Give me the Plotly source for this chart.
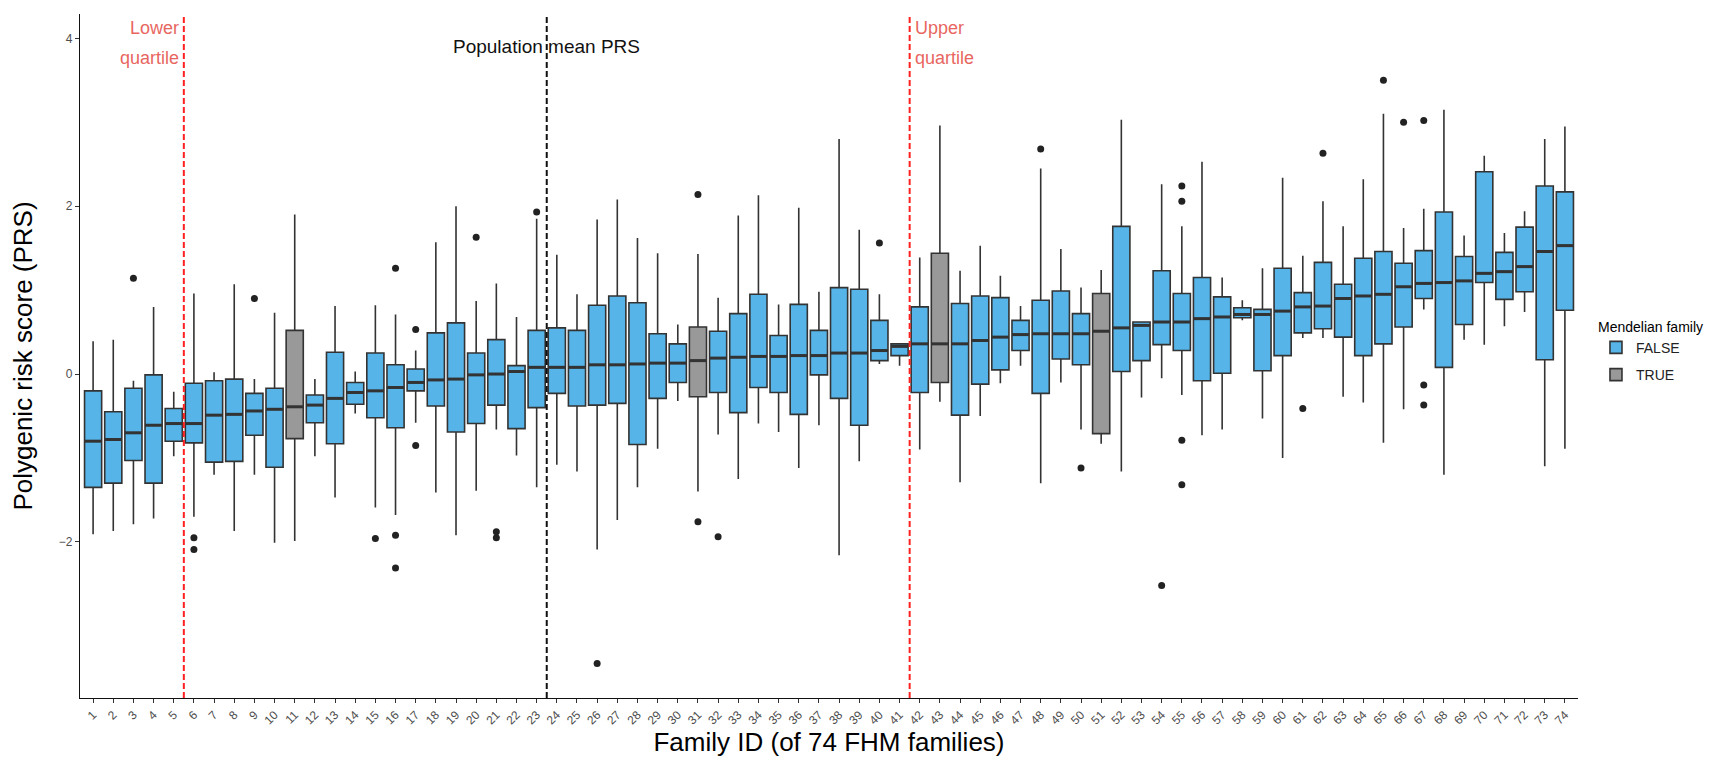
import plotly.graph_objects as go

families = list(range(1, 75))
upper_whisker = [0.39, 0.41, -0.08, 0.80, -0.21, 0.96, 0.02, 1.07, -0.06, 0.73,
                 1.90, -0.06, 0.81, 0.03, 0.82, 0.71, 0.28, 1.57, 2.00, 0.87,
                 1.08, 0.68, 1.85, 1.42, 0.95, 1.84, 2.08, 1.62, 1.44, 0.59,
                 1.43, 0.91, 1.89, 2.13, 0.83, 1.98, 0.98, 2.80, 1.72, 0.95,
                 0.36, 1.39, 2.96, 1.23, 1.53, 1.17, 0.81, 2.45, 1.49, 1.03,
                 1.24, 3.03, 0.62, 2.26, 1.76, 2.53, 1.15, 0.88, 1.26, 2.34,
                 1.41, 2.06, 1.76, 2.32, 3.10, 1.74, 1.97, 3.15, 1.65, 2.60,
                 1.68, 1.94, 2.80, 2.95]
q3 = [-0.20, -0.45, -0.17, -0.01, -0.41, -0.11, -0.08, -0.06, -0.23, -0.17,
      0.52, -0.25, 0.26, -0.10, 0.25, 0.11, 0.06, 0.49, 0.61, 0.25,
      0.41, 0.10, 0.52, 0.55, 0.52, 0.82, 0.93, 0.85, 0.48, 0.36,
      0.56, 0.51, 0.72, 0.95, 0.46, 0.83, 0.52, 1.03, 1.01, 0.64,
      0.36, 0.80, 1.44, 0.84, 0.93, 0.91, 0.64, 0.88, 0.99, 0.72,
      0.96, 1.76, 0.62, 1.23, 0.96, 1.15, 0.92, 0.79, 0.77, 1.26,
      0.97, 1.33, 1.07, 1.38, 1.46, 1.32, 1.47, 1.93, 1.40, 2.41,
      1.45, 1.75, 2.24, 2.17]
median = [-0.80, -0.78, -0.70, -0.61, -0.59, -0.59, -0.49, -0.48, -0.44, -0.42,
          -0.39, -0.37, -0.29, -0.22, -0.20, -0.16, -0.10, -0.07, -0.06, -0.01,
          0.00, 0.03, 0.08, 0.08, 0.08, 0.11, 0.11, 0.12, 0.13, 0.13,
          0.16, 0.19, 0.20, 0.21, 0.21, 0.22, 0.22, 0.25, 0.25, 0.28,
          0.33, 0.36, 0.36, 0.36, 0.40, 0.44, 0.47, 0.48, 0.48, 0.48,
          0.51, 0.55, 0.58, 0.62, 0.62, 0.66, 0.68, 0.71, 0.71, 0.75,
          0.80, 0.81, 0.90, 0.93, 0.95, 1.04, 1.08, 1.09, 1.11, 1.20,
          1.22, 1.28, 1.46, 1.53]
q1 = [-1.35, -1.30, -1.03, -1.30, -0.80, -0.82, -1.05, -1.04, -0.73, -1.11,
      -0.77, -0.58, -0.83, -0.36, -0.52, -0.64, -0.20, -0.38, -0.69, -0.59,
      -0.37, -0.65, -0.40, -0.23, -0.38, -0.37, -0.35, -0.84, -0.29, -0.10,
      -0.27, -0.22, -0.46, -0.16, -0.22, -0.48, -0.01, -0.29, -0.61, 0.16,
      0.22, -0.22, -0.10, -0.49, -0.12, 0.05, 0.28, -0.23, 0.18, 0.11,
      -0.71, 0.03, 0.16, 0.35, 0.28, -0.08, 0.01, 0.67, 0.04, 0.22,
      0.49, 0.54, 0.44, 0.22, 0.36, 0.56, 0.90, 0.08, 0.59, 1.09,
      0.89, 0.98, 0.17, 0.76]
lower_whisker = [-1.91, -1.87, -1.79, -1.72, -0.98, -1.70, -1.20, -1.87, -1.20, -2.01,
                 -1.99, -0.98, -1.47, -0.47, -1.59, -1.68, -0.58, -1.41, -1.92, -1.39,
                 -0.66, -0.97, -1.35, -1.08, -1.16, -2.09, -1.74, -1.35, -0.89, -0.32,
                 -1.40, -0.72, -1.25, -0.59, -0.69, -1.12, -0.61, -2.16, -1.04, 0.12,
                 0.10, -0.90, -0.33, -1.29, -0.50, -0.11, 0.10, -1.30, -0.10, -0.66,
                 -0.83, -1.16, -0.28, -0.05, -0.25, -0.73, -0.66, 0.64, -0.53, -1.00,
                 0.43, 0.43, -0.27, -0.34, -0.82, -0.42, 0.77, -1.20, 0.41, 0.35,
                 0.57, 0.74, -1.10, -0.89]
mendelian_families = [11, 31, 43, 51]

outlier_family = [3, 6, 6, 9, 15, 16, 16, 16, 17, 17, 20, 21, 21, 23, 26, 31, 31, 32,
                  40, 48, 50, 54, 55, 55, 55, 55, 61, 62, 65, 66, 67, 67, 67]
outlier_value = [1.14, -1.95, -2.09, 0.90, -1.96, 1.26, -1.92, -2.31, 0.53, -0.85,
                 1.63, -1.88, -1.95, 1.93, -3.45, 2.14, -1.76, -1.94,
                 1.56, 2.68, -1.12, -2.52, 2.24, 2.06, -0.79, -1.32, -0.41, 2.63,
                 3.50, 3.00, 3.02, -0.13, -0.37]

tick_labels = [str(f) for f in families]
lower_quartile_pos = 5.5
pop_mean_pos = 23.5
upper_quartile_pos = 41.5

BLUE = "#56B4E9"
GREY = "#999999"
OUTLINE = "#333333"
BOX_W = 0.85
FONT = "Liberation Sans, Arial, Helvetica, sans-serif"
RED_TXT = "#e8665f"

fig = go.Figure()

for flag, name, color in [(False, "FALSE", BLUE), (True, "TRUE", GREY)]:
    idx = [i for i, f in enumerate(families) if (f in mendelian_families) == flag]
    fig.add_trace(go.Box(
        x=[families[i] for i in idx],
        q1=[q1[i] for i in idx],
        median=[median[i] for i in idx],
        q3=[q3[i] for i in idx],
        lowerfence=[lower_whisker[i] for i in idx],
        upperfence=[upper_whisker[i] for i in idx],
        name=name,
        legendgroup=name,
        fillcolor=color,
        line=dict(color=OUTLINE, width=1.6),
        whiskerwidth=0,
        width=BOX_W,
        boxpoints=False,
        hoverinfo="skip",
        showlegend=True,
    ))

# thicker median bars (ggplot style)
mx, my = [], []
for f, m in zip(families, median):
    mx += [f - BOX_W / 2, f + BOX_W / 2, None]
    my += [m, m, None]
fig.add_trace(go.Scatter(x=mx, y=my, mode="lines",
                         line=dict(color=OUTLINE, width=3),
                         showlegend=False, hoverinfo="skip"))

fig.add_trace(go.Scatter(x=outlier_family, y=outlier_value, mode="markers",
                         marker=dict(color="#222222", size=7),
                         showlegend=False, hoverinfo="skip"))

for pos, col in [(lower_quartile_pos, "#ff2020"), (pop_mean_pos, "#111111"),
                 (upper_quartile_pos, "#ff2020")]:
    fig.add_shape(type="line", xref="x", yref="paper", x0=pos, x1=pos, y0=0, y1=1,
                  line=dict(color=col, width=2, dash="6px,3px"))

line1_y, line2_y, mid_y = 4.12, 3.76, 3.90
for text, y in [("Lower", line1_y), ("quartile", line2_y)]:
    fig.add_annotation(x=lower_quartile_pos, y=y, xref="x", yref="y", text=text,
                       showarrow=False, xanchor="right", xshift=-3,
                       font=dict(family=FONT, size=18, color=RED_TXT))
for text, y in [("Upper", line1_y), ("quartile", line2_y)]:
    fig.add_annotation(x=upper_quartile_pos, y=y, xref="x", yref="y", text=text,
                       showarrow=False, xanchor="left", xshift=3,
                       font=dict(family=FONT, size=18, color=RED_TXT))
fig.add_annotation(x=pop_mean_pos, y=mid_y, xref="x", yref="y",
                   text="Population mean PRS", showarrow=False, xanchor="center",
                   font=dict(family=FONT, size=19, color="#111111"))

fig.update_layout(
    width=1720, height=757,
    margin=dict(l=72, r=150, t=6, b=67),
    paper_bgcolor="white", plot_bgcolor="white",
    boxmode="overlay",
    font=dict(family=FONT, color="#000000"),
    legend=dict(title=dict(text="Mendelian family", font=dict(size=14, color="#000")),
                x=1.012, y=0.562, xanchor="left", yanchor="top",
                traceorder="grouped", tracegroupgap=6,
                font=dict(size=14, color="#222")),
    xaxis=dict(
        range=[0.35, 74.65], tickmode="array", tickvals=families, ticktext=tick_labels,
        tickangle=-45, tickfont=dict(size=12, color="#4d4d4d"),
        ticks="outside", ticklen=4, tickcolor="#333", tickwidth=1.2,
        showline=True, linecolor="#111", linewidth=1.2, showgrid=False,
        zeroline=False, automargin=False,
        title=dict(text="Family ID (of 74 FHM families)", font=dict(size=26, color="#000"),
                   standoff=0),
    ),
    yaxis=dict(
        range=[-3.86, 4.29], tickvals=[-2, 0, 2, 4],
        tickfont=dict(size=12, color="#4d4d4d"),
        ticks="outside", ticklen=4, tickcolor="#333", tickwidth=1.2,
        showline=True, linecolor="#111", linewidth=1.2, showgrid=False,
        zeroline=False, automargin=False,
        title=dict(text="Polygenic risk score (PRS)", font=dict(size=26, color="#000"),
                   standoff=18),
    ),
)

fig.write_html("out.html")
